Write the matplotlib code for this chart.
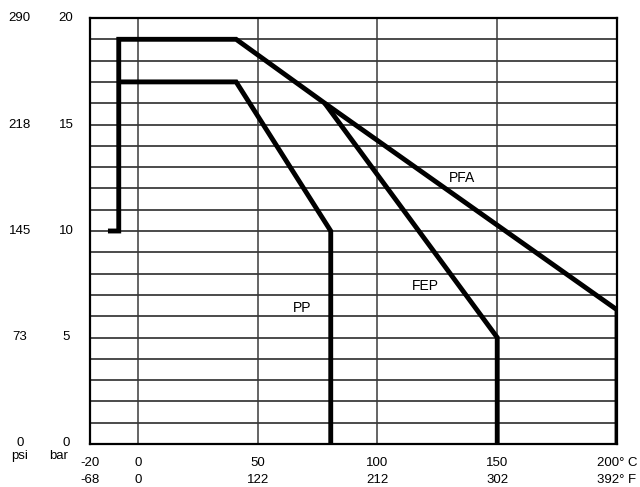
import numpy as np
import matplotlib
matplotlib.use("Agg")
import matplotlib.pyplot as plt

plt.rcParams['font.family'] = ['Liberation Sans', 'DejaVu Sans']

# temperature ticks (C and F) and pressure ticks (bar and psi)
temp_c = [-20, 0, 50, 100, 150, 200]
temp_c_labels = ['-20', '0', '50', '100', '150', '200° C']
temp_f_labels = ['-68', '0', '122', '212', '302', '392° F']
bar_ticks = [0, 5, 10, 15, 20]
psi_labels = ['0', '73', '145', '218', '290']

# curves (temperature C, pressure bar)
pfa_t = [-12.5, -8, -8, 41, 78, 200, 200]
pfa_p = [10, 10, 19, 19, 16, 6.3, 0]
pp_t = [-8, 41, 80.5, 80.5]
pp_p = [17, 17, 10, 0]
fep_t = [78, 150, 150]
fep_p = [16, 5, 0]

labels = ['PFA', 'FEP', 'PP']
label_t = [135.5, 120, 68.5]
label_p = [12.5, 7.4, 6.4]

fig = plt.figure(figsize=(6.4, 4.87), dpi=100)
ax = fig.add_axes([90/640, 43/487, 527/640, 426/487])
ax.set_xlim(-20, 200)
ax.set_ylim(0, 20)

# grid
for p in range(1, 20):
    ax.axhline(p, color='#1a1a1a', lw=1.1, zorder=1)
for t in temp_c[1:-1]:
    ax.axvline(t, color='#3a3a3a', lw=1.1, zorder=1)

for s in ax.spines.values():
    s.set_linewidth(1.6)
ax.set_xticks([])
ax.set_yticks([])

kw = dict(color='black', lw=3.5, solid_joinstyle='miter', solid_capstyle='butt', zorder=3)
ax.plot(pfa_t, pfa_p, **kw)
ax.plot(pp_t, pp_p, **kw)
ax.plot(fep_t, fep_p, **kw)

fs = 9.5
for name, t, p in zip(labels, label_t, label_p):
    ax.text(t, p, name, fontsize=10, ha='center', va='center', zorder=4)

# tick labels
for t, lc, lf in zip(temp_c, temp_c_labels, temp_f_labels):
    ax.text(t, -0.88, lc, fontsize=fs, ha='center', va='center', clip_on=False)
    ax.text(t, -1.7, lf, fontsize=fs, ha='center', va='center', clip_on=False)

for b, ps in zip(bar_ticks, psi_labels):
    ax.text(-30, b + (0.05 if b == 0 else 0), str(b), fontsize=fs, ha='center', va='center', clip_on=False)
    ax.text(-49.3, b + (0.05 if b == 0 else 0), ps, fontsize=fs, ha='center', va='center', clip_on=False)
ax.text(-33, -0.55, 'bar', fontsize=fs, ha='center', va='center', clip_on=False)
ax.text(-49.5, -0.55, 'psi', fontsize=fs, ha='center', va='center', clip_on=False)

fig.savefig('out.png', dpi=100)
